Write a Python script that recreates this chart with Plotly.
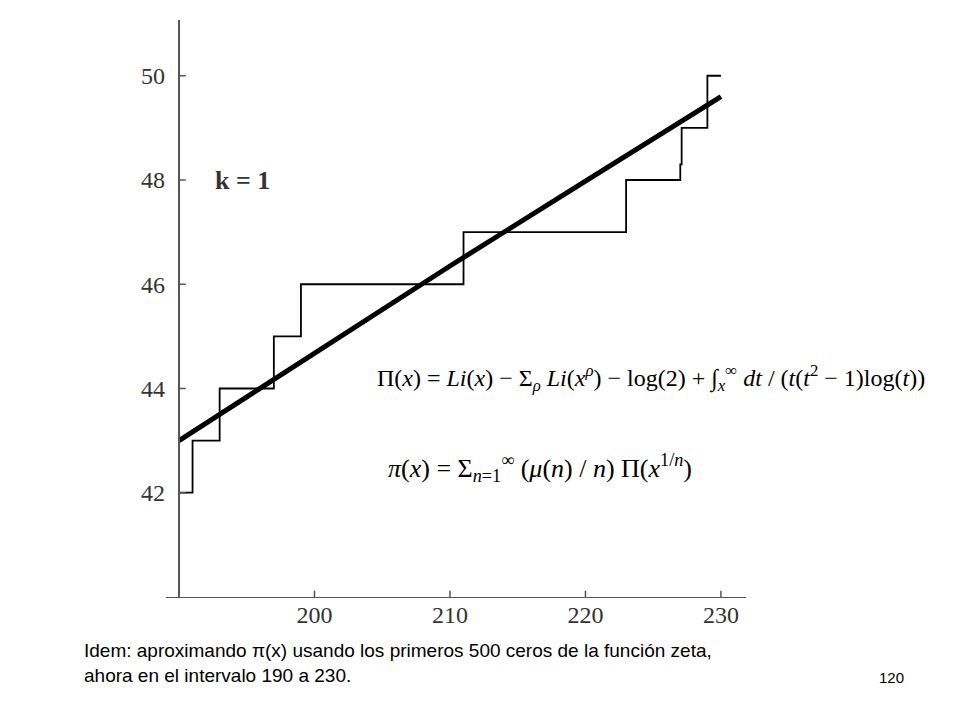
import plotly.graph_objects as go

# step function: pi(x) approximation, values between primes
step_x = [190, 191, 191, 193, 193, 197, 197, 199, 199, 211, 211, 223, 223, 227, 227, 227.1, 227.1, 229, 229, 230]
step_y = [42, 42, 43, 43, 44, 44, 45, 45, 46, 46, 47, 47, 48, 48, 48.3, 48.3, 49, 49, 50, 50]

# smooth approximation (thick line)
line_x = [190, 200, 210, 220, 230]
line_y = [43.0, 44.68, 46.35, 47.98, 49.6]

x_ticks = [200, 210, 220, 230]
y_ticks = [42, 44, 46, 48, 50]

fig = go.Figure()
fig.add_trace(go.Scatter(x=step_x, y=step_y, mode='lines', line=dict(color='black', width=1.8)))
fig.add_trace(go.Scatter(x=line_x, y=line_y, mode='lines', line=dict(color='black', width=5)))

serif = dict(family='Liberation Serif', size=24, color='#333')
fig.update_layout(
    width=960, height=720, showlegend=False,
    plot_bgcolor='white', paper_bgcolor='white',
    margin=dict(l=158, r=222, t=12, b=130),
)
fig.update_xaxes(range=[189.04, 231.85], showgrid=False, zeroline=False, showline=False,
                 tickvals=x_ticks, ticks='', tickfont=serif)
fig.update_yaxes(range=[39.98, 51.07], showgrid=False, zeroline=False, showline=False,
                 tickvals=y_ticks, ticks='', tickfont=serif)

# axes as drawn in the original
fig.add_shape(type='line', xref='x', yref='paper', x0=190, x1=190, y0=0, y1=1, line=dict(color='#555', width=2))
fig.add_shape(type='line', xref='paper', yref='y', x0=0, x1=1, y0=39.98, y1=39.98, line=dict(color='#555', width=2))
for t in x_ticks:
    fig.add_shape(type='line', xref='x', yref='y', x0=t, x1=t, y0=39.98, y1=40.12, line=dict(color='#555', width=1.5))
for t in y_ticks:
    fig.add_shape(type='line', xref='x', yref='y', x0=190, x1=190.5, y0=t, y1=t, line=dict(color='#555', width=1.5))

fig.add_annotation(x=192.5, y=48, text='<b>k = 1</b>', showarrow=False, xanchor='left',
                   font=dict(family='Liberation Serif', size=26, color='#333'))

fig.add_annotation(xref='paper', yref='paper', x=0.36, y=0.38, xanchor='left', showarrow=False,
                   text='Π(<i>x</i>) = <i>Li</i>(<i>x</i>) − Σ<sub><i>ρ</i></sub> <i>Li</i>(<i>x</i><sup><i>ρ</i></sup>) − log(2) + ∫<sub><i>x</i></sub><sup>∞</sup> <i>dt</i> / (<i>t</i>(<i>t</i><sup>2</sup> − 1)log(<i>t</i>))',
                   font=dict(family='Liberation Serif', size=24, color='black'))
fig.add_annotation(xref='paper', yref='paper', x=0.38, y=0.19, xanchor='left', showarrow=False,
                   text='<i>π</i>(<i>x</i>) = Σ<sub><i>n</i>=1</sub><sup>∞</sup> (<i>μ</i>(<i>n</i>) / <i>n</i>) Π(<i>x</i><sup>1/<i>n</i></sup>)',
                   font=dict(family='Liberation Serif', size=26, color='black'))

fig.add_annotation(xref='paper', yref='paper', x=-0.145, y=-0.07, xanchor='left', yanchor='top', align='left',
                   showarrow=False,
                   text='Idem: aproximando π(x) usando los primeros 500 ceros de la función zeta,<br>ahora en el intervalo 190 a 230.',
                   font=dict(family='Liberation Sans', size=19, color='black'))
fig.add_annotation(xref='paper', yref='paper', x=1.25, y=-0.12, xanchor='center', yanchor='top',
                   showarrow=False, text='120', font=dict(family='Liberation Sans', size=15, color='black'))

fig.write_html("out.html")
